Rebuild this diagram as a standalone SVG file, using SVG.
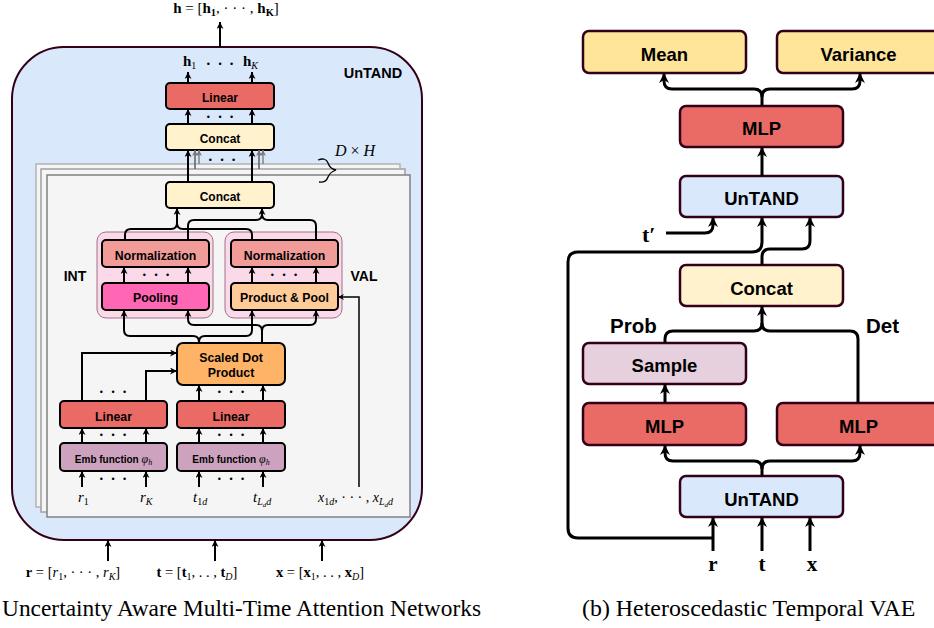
<svg xmlns="http://www.w3.org/2000/svg" width="934" height="628" viewBox="0 0 934 628">
<style>
.sans{font-family:"Liberation Sans",Arial,sans-serif;font-weight:bold;fill:#000}
.serif{font-family:"Liberation Serif","Times New Roman",serif;fill:#000}
.b{font-weight:bold}
.i{font-style:italic}
.box{stroke:#000;stroke-width:2}
.rbox{stroke:#33001a;stroke-width:2.5}
.c{fill:none;stroke:#000;stroke-width:2}
.cr{fill:none;stroke:#000;stroke-width:3}
.dots{font-family:"Liberation Sans",Arial,sans-serif;font-size:9px;word-spacing:6px;fill:#000}
.mid{text-anchor:middle}
</style>
<defs>
<marker id="a" viewBox="0 0 10 10" refX="10" refY="5" markerWidth="8" markerHeight="7" markerUnits="userSpaceOnUse" orient="auto"><path d="M0,0 L10,5 L0,10 L3,5z" fill="#000"/></marker>
<marker id="as" viewBox="0 0 10 10" refX="10" refY="5" markerWidth="7" markerHeight="6" markerUnits="userSpaceOnUse" orient="auto"><path d="M0,0 L10,5 L0,10 L3,5z" fill="#000"/></marker>
<marker id="ag" viewBox="0 0 10 10" refX="10" refY="5" markerWidth="7" markerHeight="6" markerUnits="userSpaceOnUse" orient="auto"><path d="M0,0 L10,5 L0,10 L3,5z" fill="#777"/></marker>
<marker id="ar" viewBox="0 0 10 10" refX="10" refY="5" markerWidth="11" markerHeight="10" markerUnits="userSpaceOnUse" orient="auto"><path d="M0,0 L10,5 L0,10 L3,5z" fill="#000"/></marker>
</defs>

<!-- ===== Left panel ===== -->
<g id="untand-outer">
<rect x="12" y="47" width="410" height="493" rx="52" fill="#dae8fc" stroke="#33001a" stroke-width="2"/>
<text class="sans" x="373" y="78" font-size="14.5" text-anchor="middle">UnTAND</text>
</g>
<g id="planes">
<rect x="36" y="164" width="364" height="343" fill="#f5f5f5" stroke="#b3b3b3" stroke-width="1.5"/>
<rect x="41" y="169" width="364" height="343" fill="#f5f5f5" stroke="#a0a0a0" stroke-width="1.5"/>
<rect x="47" y="175" width="363" height="342" fill="#f5f5f5" stroke="#808080" stroke-width="1.5"/>
<path d="M318,160 Q326,157 328,163 Q330,169 336,170 Q330,172 328,177 Q326,183 319,182" fill="none" stroke="#000" stroke-width="1.3"/>
<text class="serif i" x="355" y="156" font-size="16" text-anchor="middle">D <tspan font-style="normal">×</tspan> H</text>
</g>

<g id="int-group">
<rect x="97" y="232" width="116" height="86" rx="9" fill="#fad9e9" stroke="#a07088" stroke-width="1"/>
<text class="sans" x="75" y="281" font-size="14" text-anchor="middle">INT</text>
</g>
<g id="val-group">
<rect x="225" y="232" width="117" height="86" rx="9" fill="#fad9e9" stroke="#a07088" stroke-width="1"/>
<text class="sans" x="364" y="281" font-size="14" text-anchor="middle">VAL</text>
</g>

<g id="linear-top">
<rect class="box" x="166" y="83" width="108" height="26" rx="4" fill="#ea6b66"/>
<text class="sans" x="220" y="102" font-size="12" text-anchor="middle">Linear</text>
</g>
<g id="concat-top">
<rect class="box" x="166" y="124" width="108" height="26" rx="4" fill="#fff2cc"/>
<text class="sans" x="220" y="143" font-size="12" text-anchor="middle">Concat</text>
</g>
<g id="concat-inner">
<rect class="box" x="166" y="182" width="108" height="26" rx="4" fill="#fff2cc"/>
<text class="sans" x="220" y="201" font-size="12" text-anchor="middle">Concat</text>
</g>
<g id="norm-int">
<rect class="box" x="102" y="240" width="107" height="27" rx="4" fill="#f19c99"/>
<text class="sans" x="155.5" y="259.5" font-size="12.3" text-anchor="middle">Normalization</text>
</g>
<g id="norm-val">
<rect class="box" x="231" y="240" width="107" height="27" rx="4" fill="#f19c99"/>
<text class="sans" x="284.5" y="259.5" font-size="12.3" text-anchor="middle">Normalization</text>
</g>
<g id="pooling">
<rect class="box" x="102" y="283" width="107" height="27" rx="4" fill="#ff66b3"/>
<text class="sans" x="155.5" y="302" font-size="12.3" text-anchor="middle">Pooling</text>
</g>
<g id="prodpool">
<rect class="box" x="231" y="283" width="107" height="27" rx="4" fill="#ffcc99"/>
<text class="sans" x="284.5" y="302" font-size="12.3" text-anchor="middle">Product &amp; Pool</text>
</g>
<g id="sdp">
<rect class="box" x="177" y="343" width="108" height="42" rx="6" fill="#ffb366"/>
<text class="sans" x="231" y="362" font-size="12.3" text-anchor="middle">Scaled Dot</text>
<text class="sans" x="231" y="377" font-size="12.3" text-anchor="middle">Product</text>
</g>
<g id="linear-r">
<rect class="box" x="60" y="401" width="107" height="27" rx="4" fill="#ea6b66"/>
<text class="sans" x="113.5" y="420.5" font-size="12.3" text-anchor="middle">Linear</text>
</g>
<g id="linear-t">
<rect class="box" x="177" y="401" width="108" height="27" rx="4" fill="#ea6b66"/>
<text class="sans" x="231" y="420.5" font-size="12.3" text-anchor="middle">Linear</text>
</g>
<g id="emb-r">
<rect class="box" x="60" y="443" width="107" height="28" rx="4" fill="#cda2be"/>
<text class="sans" x="113.5" y="462.5" font-size="10" text-anchor="middle">Emb function <tspan class="serif i" font-weight="normal" font-size="12">φ</tspan><tspan class="serif i" font-weight="normal" font-size="8" dy="2">h</tspan></text>
</g>
<g id="emb-t">
<rect class="box" x="177" y="443" width="108" height="28" rx="4" fill="#cda2be"/>
<text class="sans" x="231" y="462.5" font-size="10" text-anchor="middle">Emb function <tspan class="serif i" font-weight="normal" font-size="12">φ</tspan><tspan class="serif i" font-weight="normal" font-size="8" dy="2">h</tspan></text>
</g>

<g id="left-labels">
<text class="serif" x="226" y="13" font-size="15" text-anchor="middle"><tspan class="b">h</tspan> = [<tspan class="b">h</tspan><tspan class="b" font-size="10.5" dy="3">1</tspan><tspan dy="-3">, · · · , </tspan><tspan class="b">h</tspan><tspan class="b" font-size="10.5" dy="3">K</tspan><tspan dy="-3">]</tspan></text>
<text class="serif b" x="183" y="66" font-size="15">h<tspan font-size="10" font-weight="normal" dy="3">1</tspan></text>
<text class="dots mid" x="220" y="67">• • •</text>
<text class="serif b" x="243" y="66" font-size="15">h<tspan font-size="10" font-weight="normal" font-style="italic" dy="3">K</tspan></text>
<text class="dots mid" x="220" y="120">• • •</text>
<text class="dots mid" x="222" y="163">• • •</text>
<text class="dots mid" x="156" y="278">• • •</text>
<text class="dots mid" x="284" y="278">• • •</text>
<text class="dots mid" x="113" y="395">• • •</text>
<text class="dots mid" x="231" y="395">• • •</text>
<text class="dots mid" x="113" y="438">• • •</text>
<text class="dots mid" x="231" y="438">• • •</text>
<text class="dots mid" x="113" y="482">• • •</text>
<text class="dots mid" x="231" y="482">• • •</text>
<text class="serif i" x="78" y="502" font-size="15">r<tspan font-style="normal" font-size="10" dy="3">1</tspan></text>
<text class="serif i" x="140" y="502" font-size="15">r<tspan font-size="10" dy="3">K</tspan></text>
<text class="serif i" x="193" y="502" font-size="15">t<tspan font-style="normal" font-size="10" dy="3">1</tspan><tspan font-size="10">d</tspan></text>
<text class="serif i" x="253" y="502" font-size="15">t<tspan font-size="10" dy="3">L</tspan><tspan font-size="7" dy="2">d</tspan><tspan font-size="10" dy="-2">d</tspan></text>
<text class="serif i" x="318" y="502" font-size="14">x<tspan font-style="normal" font-size="10" dy="3">1</tspan><tspan font-size="10">d</tspan><tspan font-style="normal" dy="-3">, · · · , </tspan>x<tspan font-size="10" dy="3">L</tspan><tspan font-size="7" dy="2">d</tspan><tspan font-size="10" dy="-2">d</tspan></text>
<text class="serif" x="73" y="577" font-size="14.5" text-anchor="middle"><tspan class="b">r</tspan> = [<tspan class="i">r</tspan><tspan font-size="10" dy="3">1</tspan><tspan dy="-3">, · · · , </tspan><tspan class="i">r</tspan><tspan class="i" font-size="10" dy="3">K</tspan><tspan dy="-3">]</tspan></text>
<text class="serif" x="197" y="577" font-size="14.5" text-anchor="middle"><tspan class="b">t</tspan> = [<tspan class="b">t</tspan><tspan font-size="10" dy="3">1</tspan><tspan dy="-3">, . . , </tspan><tspan class="b">t</tspan><tspan class="i" font-size="10" dy="3">D</tspan><tspan dy="-3">]</tspan></text>
<text class="serif" x="320" y="577" font-size="14.5" text-anchor="middle"><tspan class="b">x</tspan> = [<tspan class="b">x</tspan><tspan font-size="10" dy="3">1</tspan><tspan dy="-3">, . . , </tspan><tspan class="b">x</tspan><tspan class="i" font-size="10" dy="3">D</tspan><tspan dy="-3">]</tspan></text>
<text class="serif" x="2" y="616" font-size="23.4">Uncertainty Aware Multi-Time Attention Networks</text>
</g>

<g id="left-connectors">
<path class="c" d="M220,47 V22" marker-end="url(#a)"/>
<path class="c" d="M188,83 V72" marker-end="url(#a)"/>
<path class="c" d="M252,83 V72" marker-end="url(#a)"/>
<path class="c" d="M188,124 V109" marker-end="url(#a)"/>
<path class="c" d="M252,124 V109" marker-end="url(#a)"/>
<path class="c" d="M188,182 V150" marker-end="url(#a)"/>
<path class="c" d="M252,182 V150" marker-end="url(#a)"/>
<path d="M195,169 V150" fill="none" stroke="#666" stroke-width="1.6" marker-end="url(#ag)"/>
<path d="M199,164 V150" fill="none" stroke="#888" stroke-width="1.6" marker-end="url(#ag)"/>
<path d="M259,169 V150" fill="none" stroke="#666" stroke-width="1.6" marker-end="url(#ag)"/>
<path d="M263,164 V150" fill="none" stroke="#888" stroke-width="1.6" marker-end="url(#ag)"/>
<path class="c" d="M125,240 V235 Q125,229 131,229 H171 Q177,229 177,223 V208" marker-end="url(#a)"/>
<path class="c" d="M252,240 V235 Q252,229 246,229 H183 Q177,229 177,223"/>
<path class="c" d="M188,240 V226 Q188,220 194,220 H256 Q262,220 262,214 V208" marker-end="url(#a)"/>
<path class="c" d="M316,240 V226 Q316,220 310,220 H268 Q262,220 262,214"/>
<path class="c" d="M124,283 V267" marker-end="url(#a)"/>
<path class="c" d="M188,283 V267" marker-end="url(#a)"/>
<path class="c" d="M252,283 V267" marker-end="url(#a)"/>
<path class="c" d="M316,283 V267" marker-end="url(#a)"/>
<path class="c" d="M199,343 V342 Q199,336 193,336 H130 Q124,336 124,330 V310" marker-end="url(#a)"/>
<path class="c" d="M199,342 Q199,336 205,336 H246 Q252,336 252,330 V310" marker-end="url(#a)"/>
<path class="c" d="M262,343 V331 Q262,325 256,325 H194 Q188,325 188,319 V310" marker-end="url(#a)"/>
<path class="c" d="M262,331 Q262,325 268,325 H310 Q316,325 316,319 V310" marker-end="url(#a)"/>
<path class="c" d="M82,401 V353 H177" marker-end="url(#a)"/>
<path class="c" d="M146,401 V371 H177" marker-end="url(#a)"/>
<path class="c" d="M199,401 V385" marker-end="url(#a)"/>
<path class="c" d="M263,401 V385" marker-end="url(#a)"/>
<path class="c" d="M82,443 V428" marker-end="url(#a)"/>
<path class="c" d="M146,443 V428" marker-end="url(#a)"/>
<path class="c" d="M199,443 V428" marker-end="url(#a)"/>
<path class="c" d="M263,443 V428" marker-end="url(#a)"/>
<path class="c" d="M82,487 V471" marker-end="url(#a)"/>
<path class="c" d="M146,487 V471" marker-end="url(#a)"/>
<path class="c" d="M199,487 V471" marker-end="url(#a)"/>
<path class="c" d="M263,487 V471" marker-end="url(#a)"/>
<path d="M359,487 V297 H338" fill="none" stroke="#000" stroke-width="1.5" marker-end="url(#as)"/>
<path class="c" d="M108,561 V540" marker-end="url(#a)"/>
<path class="c" d="M215,561 V540" marker-end="url(#a)"/>
<path class="c" d="M322,561 V540" marker-end="url(#a)"/>
</g>

<!-- ===== Right panel ===== -->
<g id="mean">
<rect class="rbox" x="583" y="31" width="163" height="42" rx="6" fill="#ffe599"/>
<text class="sans" x="664.5" y="61" font-size="18.5" text-anchor="middle">Mean</text>
</g>
<g id="variance">
<rect class="rbox" x="777" y="31" width="163" height="42" rx="6" fill="#ffe599"/>
<text class="sans" x="858.5" y="61" font-size="18.5" text-anchor="middle">Variance</text>
</g>
<g id="mlp-top">
<rect class="rbox" x="680" y="106" width="163" height="41" rx="6" fill="#ea6b66"/>
<text class="sans" x="761.5" y="135" font-size="18.5" text-anchor="middle">MLP</text>
</g>
<g id="untand-top">
<rect class="rbox" x="680" y="176" width="163" height="41" rx="6" fill="#dae8fc"/>
<text class="sans" x="761.5" y="205" font-size="18.5" text-anchor="middle">UnTAND</text>
</g>
<g id="concat-r">
<rect class="rbox" x="680" y="265" width="163" height="41" rx="6" fill="#fff2cc"/>
<text class="sans" x="761.5" y="294.5" font-size="18.5" text-anchor="middle">Concat</text>
</g>
<g id="sample">
<rect class="rbox" x="583" y="343" width="163" height="41" rx="6" fill="#e6d0de"/>
<text class="sans" x="664.5" y="371.5" font-size="18.5" text-anchor="middle">Sample</text>
</g>
<g id="mlp-left">
<rect class="rbox" x="583" y="403" width="163" height="42" rx="6" fill="#ea6b66"/>
<text class="sans" x="664.5" y="433" font-size="18.5" text-anchor="middle">MLP</text>
</g>
<g id="mlp-right">
<rect class="rbox" x="777" y="403" width="163" height="42" rx="6" fill="#ea6b66"/>
<text class="sans" x="858.5" y="433" font-size="18.5" text-anchor="middle">MLP</text>
</g>
<g id="untand-bottom">
<rect class="rbox" x="680" y="476" width="163" height="41" rx="6" fill="#dae8fc"/>
<text class="sans" x="761.5" y="505.5" font-size="18.5" text-anchor="middle">UnTAND</text>
</g>
<g id="right-labels">
<text class="sans" x="610" y="333" font-size="20.5">Prob</text>
<text class="sans" x="866" y="333" font-size="20.5">Det</text>
<text class="serif b" x="642" y="242" font-size="22">t′</text>
<text class="serif b" x="713" y="571" font-size="21" text-anchor="middle">r</text>
<text class="serif b" x="762" y="571" font-size="21" text-anchor="middle">t</text>
<text class="serif b" x="812" y="571" font-size="21" text-anchor="middle">x</text>
<text class="serif" x="582" y="616" font-size="23.9">(b) Heteroscedastic Temporal VAE</text>
</g>
<g id="right-connectors">
<path class="cr" d="M762,106 V97 Q762,89 754,89 H672 Q664,89 664,81 V73" marker-end="url(#ar)"/>
<path class="cr" d="M762,97 Q762,89 770,89 H852 Q860,89 860,81 V73" marker-end="url(#ar)"/>
<path class="cr" d="M762,176 V147" marker-end="url(#ar)"/>
<path class="cr" d="M666,233 H705 Q713,233 713,225 V217" marker-end="url(#ar)"/>
<path class="cr" d="M713,538 H578 Q568,538 568,528 V262 Q568,252 578,252 H752 Q762,252 762,242 V217" marker-end="url(#ar)"/>
<path class="cr" d="M762,265 V257 Q762,249 770,249 H802 Q810,249 810,241 V217" marker-end="url(#ar)"/>
<path class="cr" d="M665,343 V339 Q665,331 673,331 H754 Q762,331 762,323 V306" marker-end="url(#ar)"/>
<path class="cr" d="M858,403 V339 Q858,331 850,331 H770 Q762,331 762,323"/>
<path class="cr" d="M665,403 V384" marker-end="url(#ar)"/>
<path class="cr" d="M762,476 V469 Q762,461 754,461 H673 Q665,461 665,453 V445" marker-end="url(#ar)"/>
<path class="cr" d="M762,469 Q762,461 770,461 H852 Q860,461 860,453 V445" marker-end="url(#ar)"/>
<path class="cr" d="M713,551 V517" marker-end="url(#ar)"/>
<path class="cr" d="M762,551 V517" marker-end="url(#ar)"/>
<path class="cr" d="M810,551 V517" marker-end="url(#ar)"/>
</g>
</svg>
